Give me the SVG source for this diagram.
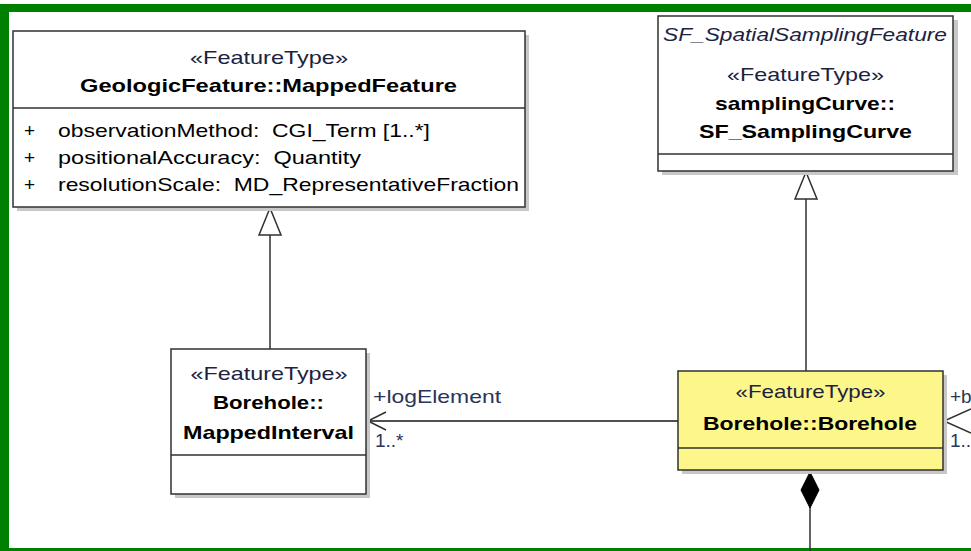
<svg xmlns="http://www.w3.org/2000/svg" width="971" height="551" viewBox="0 0 971 551">
<style>
.box{stroke:#303030;stroke-width:1.5}
.shadow{fill:#c8c8c8}
.t{font-family:"Liberation Sans",Arial,sans-serif;font-size:19px;fill:#000;white-space:pre}
.b{font-weight:bold}
.i{font-style:italic;fill:#1c2340}
.st{fill:#1c2340}
.lbl{font-family:"Liberation Sans",Arial,sans-serif;font-size:19px;fill:#26365a}
.ln{stroke:#303030;stroke-width:1.5;fill:none}
.gen{fill:#fff;stroke:#303030;stroke-width:1.5}
</style>
<rect x="0" y="0" width="971" height="551" fill="#fff"/>
<g id="frame">
<rect x="0" y="4" width="971" height="8" fill="#008000"/>
<rect x="0" y="4" width="9" height="547" fill="#008000"/>
<rect x="0" y="548" width="971" height="3" fill="#008000"/>
</g>
<g id="connectors">
<line class="ln" x1="270" y1="235" x2="270" y2="349"/>
<polygon class="gen" points="270,208 259,235 281,235"/>
<line class="ln" x1="806" y1="199" x2="806" y2="371"/>
<polygon class="gen" points="806,172 795,199 817,199"/>
<line x1="367" y1="421" x2="678" y2="421" stroke="#505050" stroke-width="2"/>
<polyline class="ln" points="386,412 368,421 386,430"/>
<polyline class="ln" points="971,409 944,421 971,433"/>
<line class="ln" x1="810" y1="507" x2="810" y2="551"/>
<polygon points="810,472 819,490 810,508 801,490" fill="#000" stroke="#000" stroke-width="1"/>
<text class="lbl" x="373" y="403" textLength="128" lengthAdjust="spacingAndGlyphs">+logElement</text>
<text class="lbl" x="375" y="447">1..*</text>
<text class="lbl" x="950" y="403">+b</text>
<text class="lbl" x="950" y="447">1..</text>
</g>
<g id="MappedFeature">
<rect class="shadow" x="17" y="35" width="512" height="176"/>
<rect class="box" x="13" y="31" width="512" height="176" fill="#fff"/>
<line class="box" x1="13" y1="108" x2="525" y2="108"/>
<text class="t st" x="269" y="64" text-anchor="middle" textLength="158" lengthAdjust="spacingAndGlyphs">«FeatureType»</text>
<text class="t b" x="268.5" y="92" text-anchor="middle" textLength="377" lengthAdjust="spacingAndGlyphs">GeologicFeature::MappedFeature</text>
<text class="t" x="24" y="137">+</text>
<text class="t" x="24" y="164">+</text>
<text class="t" x="24" y="191">+</text>
<text class="t" x="58" y="137" textLength="372" lengthAdjust="spacingAndGlyphs">observationMethod:  CGI_Term [1..*]</text>
<text class="t" x="58" y="164" textLength="303" lengthAdjust="spacingAndGlyphs">positionalAccuracy:  Quantity</text>
<text class="t" x="58" y="191" textLength="461" lengthAdjust="spacingAndGlyphs">resolutionScale:  MD_RepresentativeFraction</text>
</g>
<g id="SF_SamplingCurve">
<rect class="shadow" x="662" y="20" width="296" height="155"/>
<rect class="box" x="658" y="16" width="295" height="155" fill="#fff"/>
<line class="box" x1="658" y1="154" x2="953" y2="154"/>
<text class="t i" x="663" y="41" textLength="284" lengthAdjust="spacingAndGlyphs">SF_SpatialSamplingFeature</text>
<text class="t st" x="805.5" y="81" text-anchor="middle" textLength="157" lengthAdjust="spacingAndGlyphs">«FeatureType»</text>
<text class="t b" x="805" y="110" text-anchor="middle" textLength="180" lengthAdjust="spacingAndGlyphs">samplingCurve::</text>
<text class="t b" x="805.5" y="138" text-anchor="middle" textLength="213" lengthAdjust="spacingAndGlyphs">SF_SamplingCurve</text>
</g>
<g id="MappedInterval">
<rect class="shadow" x="175" y="353" width="195" height="145"/>
<rect class="box" x="171" y="349" width="195" height="145" fill="#fff"/>
<line class="box" x1="171" y1="455" x2="366" y2="455"/>
<text class="t st" x="269" y="380" text-anchor="middle" textLength="157" lengthAdjust="spacingAndGlyphs">«FeatureType»</text>
<text class="t b" x="268.5" y="409" text-anchor="middle" textLength="111" lengthAdjust="spacingAndGlyphs">Borehole::</text>
<text class="t b" x="268.5" y="439" text-anchor="middle" textLength="171" lengthAdjust="spacingAndGlyphs">MappedInterval</text>
</g>
<g id="Borehole">
<rect class="shadow" x="682" y="375" width="265" height="99"/>
<rect class="box" x="678" y="371" width="265" height="99" fill="#fdf68a"/>
<line class="box" x1="678" y1="448" x2="943" y2="448"/>
<text class="t st" x="810.5" y="398" text-anchor="middle" textLength="150" lengthAdjust="spacingAndGlyphs">«FeatureType»</text>
<text class="t b" x="810" y="430" text-anchor="middle" textLength="214" lengthAdjust="spacingAndGlyphs">Borehole::Borehole</text>
</g>
</svg>
